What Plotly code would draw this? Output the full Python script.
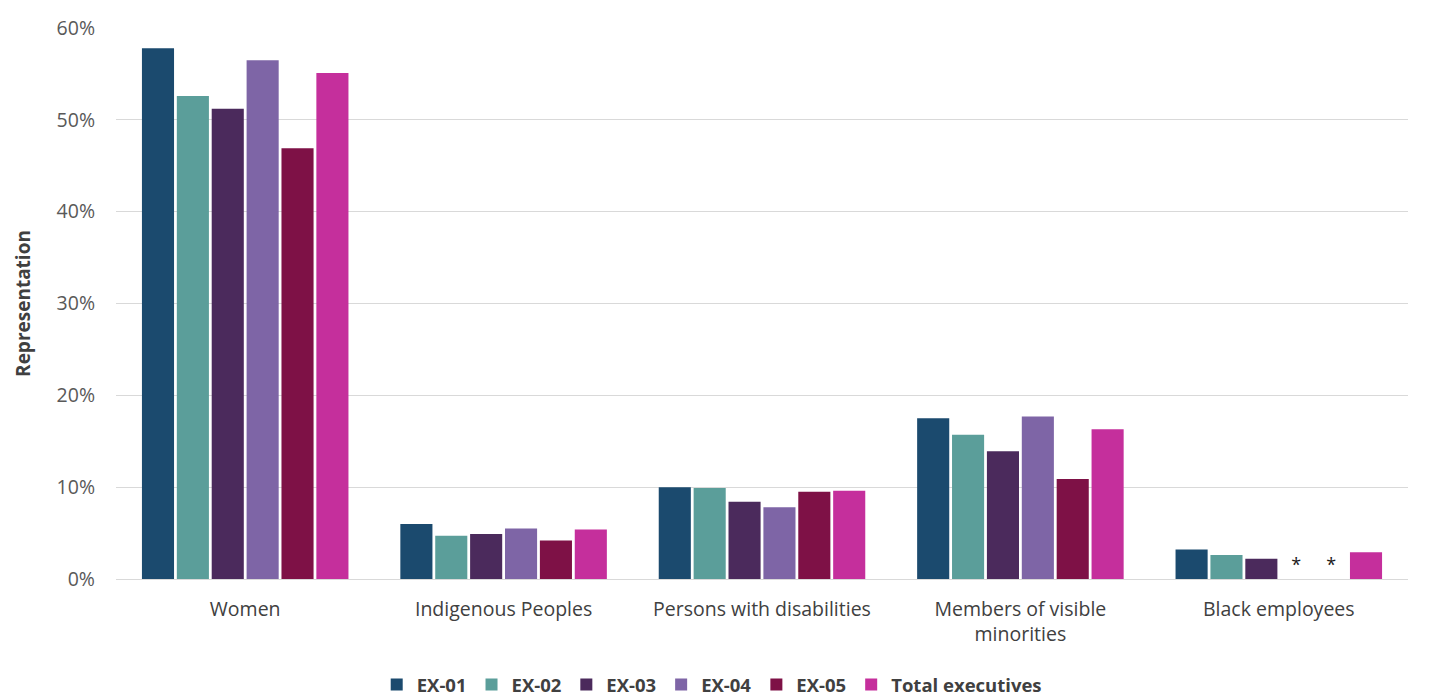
import plotly.graph_objects as go

categories = ["Women", "Indigenous Peoples", "Persons with disabilities",
              "Members of visible<br>minorities", "Black employees"]

series_names = ["EX-01", "EX-02", "EX-03", "EX-04", "EX-05", "Total executives"]

ex01 = [0.578, 0.060, 0.100, 0.175, 0.032]
ex02 = [0.526, 0.047, 0.099, 0.157, 0.026]
ex03 = [0.512, 0.049, 0.084, 0.139, 0.022]
ex04 = [0.565, 0.055, 0.078, 0.177, None]   # suppressed value shown as "*"
ex05 = [0.469, 0.042, 0.095, 0.109, None]   # suppressed value shown as "*"
total = [0.551, 0.054, 0.096, 0.163, 0.029]

colors = ["#1b4a6e", "#5b9e9a", "#4b2a5c", "#7e65a6", "#7e1146", "#c52f9c"]

y_ticks = [0, 0.1, 0.2, 0.3, 0.4, 0.5, 0.6]

font_family = "Open Sans, Arial, sans-serif"

fig = go.Figure()
for name, vals, col in zip(series_names, [ex01, ex02, ex03, ex04, ex05, total], colors):
    ys = [v if v is not None else 0 for v in vals]
    texts = ["*" if v is None else "" for v in vals]
    fig.add_trace(go.Bar(
        x=categories, y=ys, name=name,
        marker=dict(color=col, line=dict(width=0)),
        text=texts, textposition="outside", cliponaxis=False,
        textfont=dict(size=18, color="#1a1a1a", family=font_family),
    ))

fig.update_layout(
    width=1432, height=696,
    margin=dict(l=116, r=24, t=28, b=117),
    paper_bgcolor="white", plot_bgcolor="white",
    barmode="group", bargap=0.19, bargroupgap=0.08,
    font=dict(family=font_family, size=19, color="#595959"),
    showlegend=True,
    legend=dict(orientation="h", xref="container", x=0.497, xanchor="center",
                yref="container", y=0.016, yanchor="middle",
                font=dict(size=18.5, color="#404040", family=font_family, weight="bold"),
                itemwidth=30, tracegroupgap=0),
)

fig.update_xaxes(showgrid=False, showline=False, ticks="",
                 tickfont=dict(size=19.5, color="#404040"), ticklabelstandoff=16)
fig.update_yaxes(range=[0, 0.6], tickvals=y_ticks, tickformat=".0%",
                 showgrid=True, gridcolor="#d9d9d9", gridwidth=1, zeroline=True,
                 zerolinecolor="#d9d9d9", zerolinewidth=1,
                 tickfont=dict(size=19.5, color="#595959"), ticklabelstandoff=20,
                 title=dict(text="<b>Representation</b>", font=dict(size=19, color="#404040"),
                            standoff=20))

fig.write_html("out.html")
